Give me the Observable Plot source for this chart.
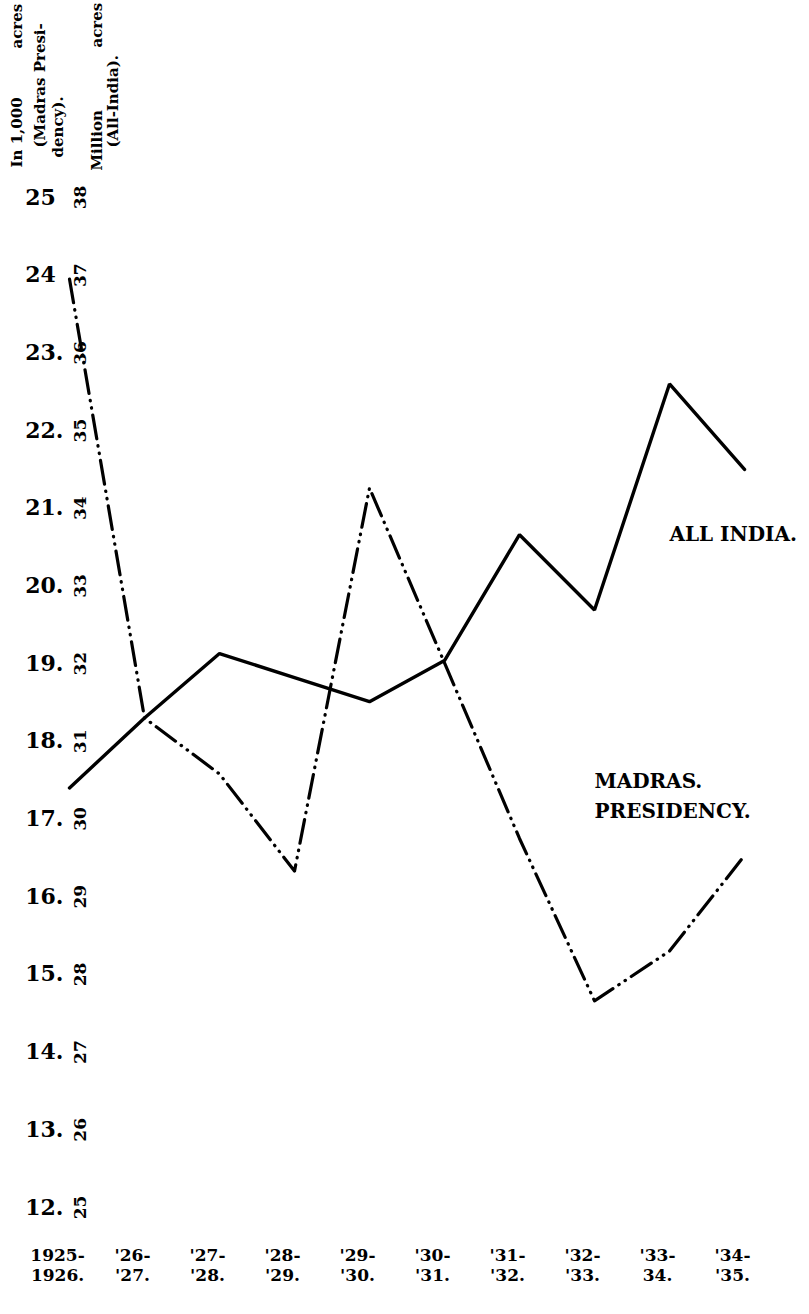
<!DOCTYPE html>
<html><head><meta charset="utf-8">
<script src="https://cdn.jsdelivr.net/npm/d3@7"></script>
<script src="https://cdn.jsdelivr.net/npm/@observablehq/plot@0.6"></script>
<style>body{margin:0;background:#fff}#chart svg{display:block}</style>
</head><body><div id="chart"></div>
<script>
// Seasons (x categories)
const seasons = ["1925-26","1926-27","1927-28","1928-29","1929-30","1930-31","1931-32","1932-33","1933-34","1934-35"];
const seasonLabels = ["1925-\n1926.","'26-\n'27.","'27-\n'28.","'28-\n'29.","'29-\n'30.","'30-\n'31.","'31-\n'32.","'32-\n'33.","'33-\n34.","'34-\n'35."];
// Madras Presidency (in 1,000 acres, left scale)
const madras = [23.95, 18.30, 17.58, 16.33, 21.26, 19.01, 16.75, 14.66, 15.30, 16.53];
// All India (million acres, right scale)
const allIndia = [30.40, 31.30, 32.13, 31.82, 31.51, 32.04, 33.66, 32.69, 35.60, 34.50];
// Tick values
const madrasTicks = [12,13,14,15,16,17,18,19,20,21,22,23,24,25];
const allIndiaTicks = [25,26,27,28,29,30,31,32,33,34,35,36,37,38];
const scaleOffset = 13; // All India scale = Madras scale + 13
// Annotations
const seriesNotes = [
  {season: "1933-34", value: 20.70, text: "ALL INDIA."},
  {season: "1932-33", value: 17.33, text: "MADRAS.\nPRESIDENCY."}
];
const titlePieces = [
  {text: "In 1,000", dx: -48, dy: -30},
  {text: "acres", dx: -48, dy: -149},
  {text: "(Madras Presi-", dx: -25, dy: -50},
  {text: "dency).", dx: -7, dy: -40},
  {text: "Million", dx: 32, dy: -27},
  {text: "acres", dx: 32, dy: -150},
  {text: "(All-India).", dx: 48, dy: -50}
];

const madrasData = seasons.map((s, i) => ({season: s, value: madras[i]}));
const allIndiaData = seasons.map((s, i) => ({season: s, value: allIndia[i]}));
const labelOf = new Map(seasons.map((s, i) => [s, seasonLabels[i]]));

const slab = "'DejaVu Serif', serif";

const chart = Plot.plot({
  width: 809,
  height: 1314,
  marginLeft: 65,
  marginRight: 61,
  marginTop: 197,
  marginBottom: 107,
  style: {background: "#fff", color: "#000", fontFamily: slab},
  x: {type: "point", domain: seasons, padding: 0, label: null},
  y: {domain: [12, 25], label: null},
  marks: [
    Plot.axisY({ticks: madrasTicks, anchor: "left", tickSize: 0, tickPadding: 2, label: null,
      tickFormat: d => d + (d >= 24 ? "\u00a0" : "."),
      fontSize: 22, fontWeight: "bold", fontFamily: slab}),
    Plot.text(allIndiaTicks, {y: d => d - scaleOffset, text: d => String(d),
      frameAnchor: "left", dx: 15, rotate: -90, textAnchor: "middle", lineAnchor: "middle",
      fontSize: 17, fontWeight: "bold", fontFamily: slab}),
    Plot.axisX({tickSize: 0, tickPadding: 40, tickFormat: d => labelOf.get(d), dx: -12, label: null,
      fontSize: 17, fontWeight: "bold", fontFamily: slab, lineHeight: 1.15}),
    ...titlePieces.map(t => Plot.text([t.text], {text: d => d, frameAnchor: "top-left",
      dx: t.dx, dy: t.dy, rotate: -90, textAnchor: "start", lineAnchor: "middle",
      fontSize: 15, fontWeight: "bold", fontFamily: slab})),
    Plot.line(allIndiaData, {x: "season", y: d => d.value - scaleOffset,
      stroke: "#000", strokeWidth: 3.4, strokeLinejoin: "miter"}),
    Plot.line(madrasData, {x: "season", y: "value",
      stroke: "#000", strokeWidth: 3.2, strokeLinecap: "round",
      strokeDasharray: "24,7,0.5,7,0.5,7"}),
    Plot.text(seriesNotes, {x: "season", y: "value", text: "text", textAnchor: "start",
      lineAnchor: "middle", dx: 0, fontSize: 20, fontWeight: "bold", fontFamily: slab, lineHeight: 1.5})
  ]
});
document.getElementById("chart").append(chart);
</script>
</body></html>
